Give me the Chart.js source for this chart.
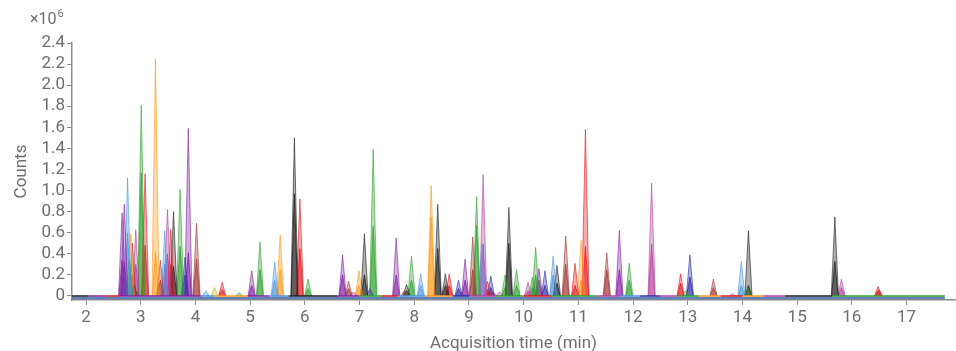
<!DOCTYPE html>
<html>
<head>
<meta charset="utf-8">
<script src="https://cdn.jsdelivr.net/npm/chart.js@4/dist/chart.umd.min.js"></script>
<style>
  html, body { margin: 0; padding: 0; background: #ffffff; }
  #wrap { width: 956px; height: 351px; position: relative; }
</style>
</head>
<body>
<div id="wrap"><canvas id="chrom" width="956" height="351"></canvas></div>
<script>
// Retention time (min) of each compound peak
const peakTime = [
  2.66, 2.70, 2.76, 2.79, 2.82, 2.85, 2.88, 2.91, 3.01, 3.08,
  3.27, 3.36, 3.44, 3.49, 3.55, 3.60, 3.72, 3.81, 3.87, 4.02,
  4.19, 4.35, 4.49, 4.80, 5.03, 5.18, 5.45, 5.55, 5.81, 5.91,
  6.06, 6.69, 6.80, 6.89, 6.99, 7.09, 7.19, 7.25, 7.67, 7.82,
  7.86, 7.95, 8.12, 8.31, 8.43, 8.57, 8.64, 8.81, 8.93, 9.07,
  9.14, 9.24, 9.26, 9.34, 9.40, 9.44, 9.56, 9.66, 9.73, 9.87,
  10.08, 10.16, 10.22, 10.28, 10.39, 10.54, 10.61, 10.77, 10.94, 11.05,
  11.13, 11.52, 11.75, 11.93, 12.34, 12.87, 12.96, 13.04, 13.47, 13.82,
  13.98, 14.09, 14.11, 15.69, 15.81, 16.48, 16.50
];
// Quantifier ion response (counts, x10^6)
const peakHeight = [
  0.79, 0.87, 1.12, 0.35, 0.59, 0.50, 0.10, 0.63, 1.81, 1.16,
  2.25, 0.34, 0.62, 0.82, 0.63, 0.80, 1.01, 0.37, 1.59, 0.69,
  0.05, 0.08, 0.13, 0.03, 0.24, 0.51, 0.32, 0.58, 1.50, 0.92,
  0.16, 0.39, 0.14, 0.04, 0.24, 0.59, 0.07, 1.39, 0.55, 0.05,
  0.11, 0.38, 0.21, 1.05, 0.87, 0.21, 0.21, 0.15, 0.35, 0.56,
  0.94, 0.50, 1.15, 0.14, 0.19, 0.04, 0.04, 0.20, 0.84, 0.25,
  0.13, 0.18, 0.46, 0.26, 0.24, 0.38, 0.29, 0.57, 0.31, 0.53,
  1.58, 0.41, 0.62, 0.31, 1.07, 0.21, 0.05, 0.39, 0.16, 0.02,
  0.33, 0.08, 0.62, 0.75, 0.16, 0.09, 0.06
];
// Qualifier ion response (0 = not shown)
const qualHeight = [
  0.34, 0.32, 0.60, 0.20, 0.30, 0.20, 0.00, 0.30, 1.17, 0.48,
  0.42, 0.15, 0.30, 0.40, 0.30, 0.28, 0.47, 0.20, 0.41, 0.35,
  0.00, 0.00, 0.06, 0.00, 0.10, 0.25, 0.15, 0.25, 0.97, 0.45,
  0.07, 0.20, 0.07, 0.00, 0.10, 0.20, 0.00, 0.66, 0.20, 0.00,
  0.05, 0.15, 0.10, 0.75, 0.45, 0.10, 0.10, 0.07, 0.15, 0.25,
  0.67, 0.00, 0.49, 0.06, 0.08, 0.00, 0.00, 0.08, 0.50, 0.10,
  0.05, 0.08, 0.20, 0.15, 0.10, 0.20, 0.12, 0.30, 0.10, 0.15,
  0.47, 0.25, 0.25, 0.15, 0.49, 0.12, 0.00, 0.18, 0.08, 0.00,
  0.10, 0.00, 0.10, 0.33, 0.08, 0.05, 0.00
];
// Acquisition channel of each peak
const peakTrace = [
  0, 0, 1, 9, 2, 6, 5, 8, 3, 4,
  2, 6, 1, 8, 4, 5, 3, 7, 0, 6,
  1, 10, 4, 3, 0, 3, 1, 2, 5, 4,
  3, 0, 6, 8, 2, 5, 7, 3, 0, 6,
  5, 3, 1, 2, 5, 5, 4, 7, 0, 6,
  3, 1, 8, 4, 7, 6, 8, 3, 5, 3,
  8, 3, 3, 0, 7, 1, 5, 6, 4, 2,
  4, 6, 0, 3, 8, 4, 3, 7, 6, 8,
  1, 3, 5, 5, 8, 4, 6
];

// Time windows of the channel baselines
const baseStart = [1.74, 2.05, 2.35, 2.60, 4.10, 4.35, 4.95, 5.35, 5.70, 6.60, 7.00, 7.40, 7.70, 8.20, 8.70, 9.00, 9.50, 10.00, 10.50, 11.34, 11.76, 12.13, 12.50, 12.80, 13.20, 13.60, 14.00, 14.38, 14.78, 15.64];
const baseEnd   = [2.05, 2.35, 2.60, 4.10, 4.35, 4.95, 5.35, 5.70, 6.60, 7.00, 7.40, 7.70, 8.20, 8.70, 9.00, 9.50, 10.00, 10.50, 11.34, 11.76, 12.13, 12.50, 12.80, 13.20, 13.60, 14.00, 14.38, 14.78, 15.64, 17.70];
const baseTrace = [5, 0, 4, 0, 1, 2, 0, 1, 5, 0, 3, 4, 1, 2, 7, 8, 3, 4, 3, 8, 1, 7, 8, 3, 2, 4, 2, 8, 5, 3];

// Axis ticks
const xTicks = [2, 3, 4, 5, 6, 7, 8, 9, 10, 11, 12, 13, 14, 15, 16, 17];
const yTicks = [0, 0.2, 0.4, 0.6, 0.8, 1.0, 1.2, 1.4, 1.6, 1.8, 2.0, 2.2, 2.4];
const yTickLabels = ['0', '0.2', '0.4', '0.6', '0.8', '1.0', '1.2', '1.4', '1.6', '1.8', '2.0', '2.2', '2.4'];

// Channel colours
const palette = [
  [132, 32, 160],   // purple
  [76, 151, 224],   // blue
  [255, 154, 26],   // orange
  [47, 160, 47],    // green
  [229, 22, 28],    // red
  [31, 31, 31],     // black
  [163, 53, 53],    // brown
  [44, 44, 168],    // dark blue
  [184, 64, 158],   // magenta
  [24, 164, 180],   // teal
  [201, 179, 0]     // olive
];
const rgba = (c, a) => `rgba(${c[0]},${c[1]},${c[2]},${a})`;

const HALF_WIDTH = 0.066;   // half base width of a peak, minutes
const X_MIN = 1.744, X_MAX = 17.886;
const Y_MIN = -0.038, Y_MAX = 2.4;

const datasets = [];

// channel baselines
for (let i = 0; i < baseStart.length; i++) {
  const c = palette[baseTrace[i]];
  datasets.push({
    data: [{ x: baseStart[i], y: 0 }, { x: baseEnd[i], y: 0 }],
    borderColor: rgba(c, 0.75),
    borderWidth: 2,
    fill: false
  });
}

// quantifier peaks
for (let i = 0; i < peakTime.length; i++) {
  const c = palette[peakTrace[i]];
  const t = peakTime[i];
  datasets.push({
    data: [{ x: t - HALF_WIDTH, y: 0 }, { x: t, y: peakHeight[i] }, { x: t + HALF_WIDTH, y: 0 }],
    borderColor: rgba(c, 0.6),
    backgroundColor: rgba(c, 0.36),
    borderWidth: 1,
    fill: 'origin'
  });
}

// qualifier peaks
for (let i = 0; i < peakTime.length; i++) {
  if (!qualHeight[i]) continue;
  const c = palette[peakTrace[i]];
  const t = peakTime[i];
  datasets.push({
    data: [{ x: t - HALF_WIDTH * 0.9, y: 0 }, { x: t, y: qualHeight[i] }, { x: t + HALF_WIDTH * 0.9, y: 0 }],
    borderColor: rgba(c, 0.75),
    backgroundColor: rgba(c, 0.55),
    borderWidth: 1,
    fill: 'origin'
  });
}

// detector offset trace
datasets.push({
  data: [{ x: X_MIN, y: -0.02 }, { x: 17.70, y: -0.02 }],
  borderColor: 'rgba(88,120,180,0.95)',
  borderWidth: 2.5,
  fill: false
});

const textGray = '#6e6e6e';
const axisGray = '#8c8c8c';

const exponentLabel = {
  id: 'exponentLabel',
  afterDraw(chart) {
    const ctx = chart.ctx;
    ctx.save();
    ctx.fillStyle = textGray;
    ctx.textBaseline = 'alphabetic';
    ctx.textAlign = 'left';
    ctx.font = '16px Roboto';
    ctx.fillText('×10', 30, 24);
    const w = ctx.measureText('×10').width;
    ctx.font = '11px Roboto';
    ctx.fillText('6', 30 + w + 1, 17);
    ctx.restore();
  }
};

new Chart(document.getElementById('chrom'), {
  type: 'line',
  data: { datasets },
  plugins: [exponentLabel],
  options: {
    responsive: false,
    animation: false,
    parsing: false,
    normalized: true,
    layout: { padding: { top: 43, right: 1, left: 0, bottom: 0 } },
    elements: { point: { radius: 0 }, line: { tension: 0 } },
    plugins: { legend: { display: false }, tooltip: { enabled: false } },
    scales: {
      x: {
        type: 'linear',
        min: X_MIN,
        max: X_MAX,
        afterBuildTicks(scale) { scale.ticks = xTicks.map(v => ({ value: v })); },
        afterFit(scale) { scale.height = 51; },
        ticks: {
          color: textGray,
          font: { family: 'Roboto', size: 17 },
          padding: 3,
          maxRotation: 0,
          autoSkip: false,
          callback: v => String(v)
        },
        grid: { display: true, drawOnChartArea: false, drawTicks: true, tickLength: 5, color: axisGray, lineWidth: 1 },
        border: { display: true, color: axisGray, width: 1.5 },
        title: {
          display: true,
          text: 'Acquisition time (min)',
          color: textGray,
          font: { family: 'Roboto', size: 17 },
          padding: { top: 0, bottom: -3 }
        }
      },
      y: {
        type: 'linear',
        min: Y_MIN,
        max: Y_MAX,
        afterBuildTicks(scale) { scale.ticks = yTicks.map(v => ({ value: v })); },
        afterFit(scale) { scale.width = 72; },
        ticks: {
          color: textGray,
          font: { family: 'Roboto', size: 17 },
          padding: 2,
          autoSkip: false,
          callback: (v) => {
            const k = yTicks.findIndex(t => Math.abs(t - v) < 1e-9);
            return k >= 0 ? yTickLabels[k] : '';
          }
        },
        grid: { display: true, drawOnChartArea: false, drawTicks: true, tickLength: 5, color: axisGray, lineWidth: 1 },
        border: { display: true, color: axisGray, width: 1.5 },
        title: {
          display: true,
          text: 'Counts',
          color: textGray,
          font: { family: 'Roboto', size: 17 },
          padding: { top: 12, bottom: 0 }
        }
      }
    }
  }
});
</script>
</body>
</html>
